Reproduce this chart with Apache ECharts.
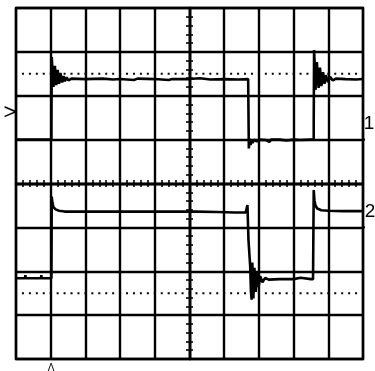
<!DOCTYPE html>
<html>
<head>
<meta charset="utf-8">
<script src="https://cdn.jsdelivr.net/npm/echarts@6/dist/echarts.min.js"></script>
<style>html,body{margin:0;padding:0;background:#fff;}#c{width:375px;height:371px;}</style>
</head>
<body>
<div id="c"></div>
<script>
// Oscilloscope screen: 10 x 8 divisions, values in divisions from screen centre
var xRange = [-5, 5];
var yRange = [-4, 4];
var dottedLevels = [2.5, -2.5];
var channelLabels = ['1', '2'];
var channelGround = [1, -1];
var markerLen = [5, 5.2];

var ch1 = [
  [-5,1.0],[-4.75,1.0],[-4.74,0.96],[-4.73,1.0],[-4.45,1.0],[-4.44,0.96],[-4.43,1.0],[-4.24,1.0],[-4.23,0.97],[-4.22,1.0],
  [-3.98,1.0],[-3.98,1.3],[-3.97,2.88],[-3.95,2.6],[-3.92,2.2],[-3.88,2.68],[-3.84,2.24],[-3.80,2.59],[-3.76,2.27],[-3.72,2.52],
  [-3.67,2.30],[-3.63,2.45],[-3.59,2.33],[-3.54,2.42],[-3.49,2.35],[-3.40,2.39],
  [-3.0,2.38],[-2.5,2.39],[-2.2,2.37],[-2.0,2.38],[-1.6,2.36],[-1.5,2.39],[-1.0,2.38],[-0.6,2.36],[-0.5,2.38],
  [0,2.38],[0.3,2.40],[0.6,2.37],[1.0,2.38],[1.4,2.37],[1.69,2.38],
  [1.70,2.38],[1.71,0.80],[1.73,1.02],[1.76,0.88],[1.79,0.99],[1.82,0.92],[1.86,1.0],[1.94,0.96],[2.02,1.0],[2.2,0.99],
  [2.3,0.95],[2.35,1.0],[2.6,1.0],[2.8,0.98],[3.0,1.0],[3.2,0.99],[3.5,1.0],[3.58,1.0],
  [3.58,1.4],[3.59,3.04],[3.61,2.7],[3.63,2.13],[3.67,2.77],[3.72,2.18],[3.76,2.64],[3.80,2.22],[3.85,2.54],[3.89,2.27],
  [3.93,2.47],[3.99,2.31],[4.05,2.43],[4.13,2.35],[4.22,2.39],[4.5,2.38],[4.8,2.37],[5,2.38]
];

var ch2 = [
  [-5,-2.16],[-4.74,-2.16],[-4.73,-2.09],[-4.72,-2.16],[-4.28,-2.16],[-4.27,-2.09],[-4.26,-2.16],[-3.98,-2.16],
  [-3.97,-0.30],[-3.95,-0.44],[-3.92,-0.54],[-3.86,-0.59],[-3.76,-0.62],[-3.6,-0.64],
  [-3.3,-0.64],[-3.29,-0.67],[-3.28,-0.64],[-2.6,-0.64],[-2.59,-0.67],[-2.58,-0.64],[-1.9,-0.64],[-1.89,-0.67],[-1.88,-0.64],
  [-1.2,-0.64],[-1.19,-0.61],[-1.18,-0.64],[-0.5,-0.64],[-0.49,-0.67],[-0.48,-0.64],[0.2,-0.64],[0.21,-0.62],[0.22,-0.65],
  [0.8,-0.65],[0.81,-0.68],[0.82,-0.65],[1.3,-0.66],[1.31,-0.63],[1.32,-0.66],[1.62,-0.66],
  [1.66,-0.65],[1.67,-0.49],[1.69,-0.50],[1.70,-1.29],[1.72,-1.32],[1.75,-1.9],[1.77,-2.45],[1.79,-2.65],[1.81,-1.8],
  [1.84,-2.62],[1.87,-1.92],[1.91,-2.47],[1.95,-2.02],[1.99,-2.36],[2.04,-2.11],[2.10,-2.25],[2.18,-2.15],[2.28,-2.19],
  [2.6,-2.18],[3.0,-2.18],[3.2,-2.15],[3.21,-2.18],[3.5,-2.18],[3.56,-2.18],
  [3.58,-0.15],[3.60,-0.38],[3.63,-0.5],[3.68,-0.57],[3.8,-0.61],[4.0,-0.62],[4.4,-0.63],[5,-0.63]
];

var chart = echarts.init(document.getElementById('c'), null, {renderer: 'canvas'});

function xAx(pos, split) {
  return {
    type: 'value', min: xRange[0], max: xRange[1], interval: 1, position: pos,
    axisLabel: {show: false},
    axisLine: {show: true, onZero: true, onZeroAxisIndex: 0, lineStyle: {color: '#000', width: 2.4}},
    axisTick: {show: true, inside: false, length: 3.5, lineStyle: {color: '#000', width: 1.6}},
    minorTick: {show: true, splitNumber: 5, length: 3.5, lineStyle: {color: '#000', width: 1.6}},
    splitLine: {show: split, lineStyle: {color: '#000', width: 2.4}}
  };
}
function yAx(pos, split) {
  return {
    type: 'value', min: yRange[0], max: yRange[1], interval: 1, position: pos,
    axisLabel: {show: false},
    axisLine: {show: true, onZero: true, onZeroAxisIndex: 0, lineStyle: {color: '#000', width: 2.4}},
    axisTick: {show: true, inside: false, length: 3.5, lineStyle: {color: '#000', width: 1.6}},
    minorTick: {show: true, splitNumber: 5, length: 3.5, lineStyle: {color: '#000', width: 1.6}},
    splitLine: {show: split, lineStyle: {color: '#000', width: 2.4}}
  };
}

var series = [];
dottedLevels.forEach(function (lv) {
  series.push({
    type: 'line', data: [[xRange[0], lv], [xRange[1], lv]], symbol: 'none', silent: true,
    lineStyle: {color: '#000', width: 2, type: [2, 4.94], dashOffset: 1}
  });
});
[ch1, ch2].forEach(function (d) {
  series.push({type: 'line', data: d, symbol: 'none', silent: true,
    lineStyle: {color: '#000', width: 2.6}});
});
channelGround.forEach(function (g) {
  series.push({type: 'line', data: [[markerLen[0], g], [markerLen[1], g]], symbol: 'none', clip: false, silent: true,
    lineStyle: {color: '#000', width: 2.4}});
});

var ff = '"Liberation Sans", Arial, sans-serif';
chart.setOption({
  animation: false,
  backgroundColor: '#fff',
  grid: {left: 16, right: 12, top: 8, bottom: 12, show: true, borderColor: '#000', borderWidth: 2.4, backgroundColor: 'transparent'},
  xAxis: [xAx('bottom', true), xAx('top', false)],
  yAxis: [yAx('left', true), yAx('right', false)],
  series: series,
  graphic: [
    {type: 'text', x: 369, y: 124, style: {text: channelLabels[0], fontSize: 19, fontFamily: ff, fill: '#000', align: 'center', verticalAlign: 'middle'}},
    {type: 'text', x: 370, y: 212, style: {text: channelLabels[1], fontSize: 19, fontFamily: ff, fill: '#000', align: 'center', verticalAlign: 'middle'}},
    {type: 'text', x: 10, y: 113, style: {text: '>', fontSize: 22, fontFamily: ff, fill: '#000', align: 'center', verticalAlign: 'middle'}},
    {type: 'text', x: 51, y: 368, style: {text: 'Λ', fontSize: 10, fontFamily: ff, fill: '#000', align: 'center', verticalAlign: 'middle'}}
  ]
});
</script>
</body>
</html>
